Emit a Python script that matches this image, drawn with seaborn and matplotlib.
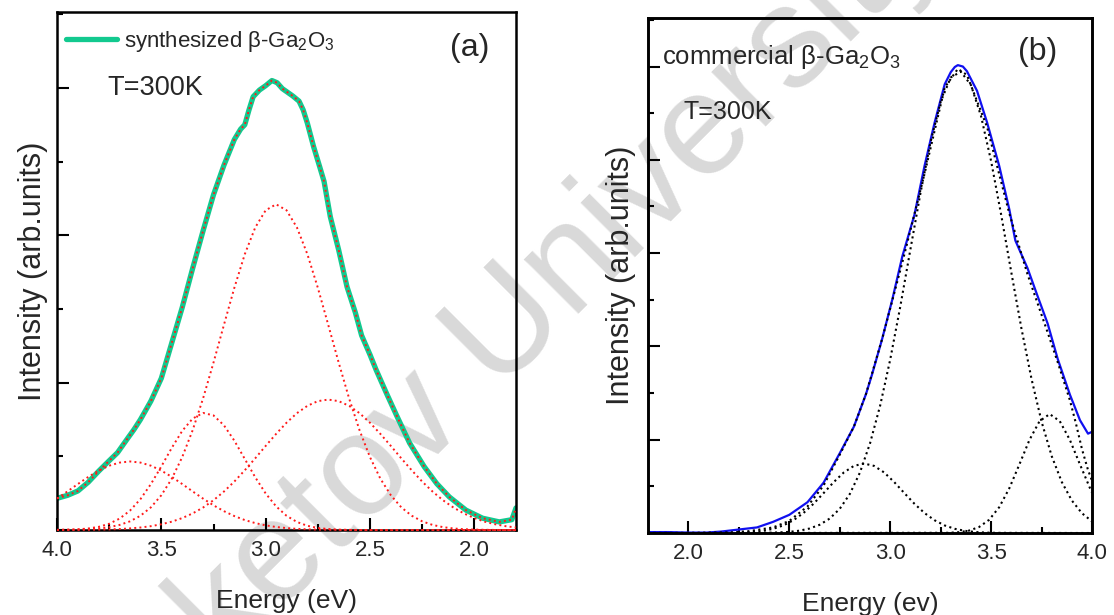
import matplotlib
matplotlib.use("Agg")
import matplotlib.pyplot as plt
import seaborn as sns
from matplotlib.ticker import MultipleLocator

# ---- panel (a): synthesized beta-Ga2O3, PL spectrum ----
e_syn = [4.00, 3.95, 3.90, 3.85, 3.80, 3.75, 3.71, 3.66, 3.632, 3.60, 3.55, 3.50, 3.45,
         3.40, 3.35, 3.30, 3.25, 3.20, 3.15, 3.12, 3.10, 3.08, 3.06, 3.03, 3.00, 2.97,
         2.945, 2.92, 2.89, 2.87, 2.84, 2.82, 2.80, 2.77, 2.74, 2.72, 2.69, 2.65, 2.61,
         2.57, 2.54, 2.50, 2.47, 2.42, 2.37, 2.31, 2.24, 2.18, 2.12, 2.04, 1.96, 1.88,
         1.82, 1.80]
i_syn = [0.43, 0.47, 0.53, 0.65, 0.80, 0.94, 1.05, 1.25, 1.36, 1.50, 1.75, 2.06, 2.54,
         3.02, 3.55, 4.06, 4.55, 4.95, 5.30, 5.44, 5.50, 5.70, 5.88, 5.97, 6.03, 6.10,
         6.07, 5.99, 5.93, 5.89, 5.82, 5.70, 5.52, 5.20, 4.92, 4.73, 4.25, 3.80, 3.30,
         2.95, 2.64, 2.38, 2.17, 1.85, 1.54, 1.18, 0.86, 0.63, 0.45, 0.27, 0.16, 0.11,
         0.14, 0.30]

# component grid for (a), 4.00 -> 1.80
e_grid_a = [4.00, 3.95, 3.90, 3.85, 3.80, 3.75, 3.70, 3.65, 3.60, 3.55, 3.50, 3.45, 3.40,
            3.35, 3.30, 3.25, 3.20, 3.15, 3.10, 3.05, 3.00, 2.95, 2.90, 2.85, 2.80, 2.75,
            2.70, 2.65, 2.60, 2.55, 2.50, 2.45, 2.40, 2.35, 2.30, 2.25, 2.20, 2.15, 2.10,
            2.05, 2.00, 1.95, 1.90, 1.85, 1.80]
peak_a1 = [0.426, 0.524, 0.624, 0.721, 0.806, 0.873, 0.915, 0.930, 0.915, 0.873, 0.806,
           0.721, 0.624, 0.524, 0.426, 0.335, 0.256, 0.189, 0.135, 0.094, 0.063, 0.041,
           0.026, 0.016, 0.009, 0.005, 0.003, 0.002, 0.001, 0, 0, 0, 0, 0, 0, 0, 0, 0, 0,
           0, 0, 0, 0, 0, 0]
peak_a2 = [0.002, 0.004, 0.009, 0.021, 0.043, 0.085, 0.155, 0.264, 0.420, 0.624, 0.863,
           1.115, 1.345, 1.512, 1.589, 1.555, 1.421, 1.212, 0.964, 0.716, 0.496, 0.321,
           0.193, 0.109, 0.057, 0.028, 0.013, 0.005, 0.002, 0, 0, 0, 0, 0, 0, 0, 0, 0, 0,
           0, 0, 0, 0, 0, 0]
peak_a3 = [0.001, 0.003, 0.006, 0.011, 0.021, 0.039, 0.069, 0.118, 0.194, 0.308, 0.472,
           0.696, 0.989, 1.354, 1.786, 2.272, 2.784, 3.288, 3.743, 4.105, 4.339, 4.420,
           4.339, 4.105, 3.743, 3.288, 2.784, 2.272, 1.786, 1.354, 0.989, 0.696, 0.472,
           0.308, 0.194, 0.118, 0.069, 0.039, 0.021, 0.011, 0.006, 0.003, 0.001, 0, 0]
peak_a4 = [0.001, 0.001, 0.002, 0.003, 0.005, 0.008, 0.013, 0.022, 0.034, 0.052, 0.078,
           0.113, 0.162, 0.225, 0.305, 0.404, 0.522, 0.658, 0.811, 0.973, 1.141, 1.304,
           1.456, 1.586, 1.685, 1.749, 1.770, 1.749, 1.685, 1.586, 1.456, 1.304, 1.141,
           0.973, 0.811, 0.658, 0.522, 0.404, 0.305, 0.225, 0.162, 0.113, 0.078, 0.052,
           0.034]

# ---- panel (b): commercial beta-Ga2O3 ----
e_com = [1.80, 1.90, 2.00, 2.09, 2.16, 2.24, 2.30, 2.34, 2.42, 2.50, 2.59, 2.67, 2.75,
         2.82, 2.88, 2.91, 2.96, 3.01, 3.06, 3.12, 3.17, 3.22, 3.27, 3.30, 3.32, 3.335,
         3.36, 3.38, 3.43, 3.48, 3.54, 3.59, 3.62, 3.68, 3.73, 3.78, 3.83, 3.89, 3.94,
         3.98, 4.00]
i_com = [0.02, 0.02, 0.01, 0.01, 0.03, 0.07, 0.10, 0.12, 0.24, 0.39, 0.66, 1.08, 1.71,
         2.28, 2.98, 3.40, 4.16, 5.00, 5.93, 6.82, 7.87, 8.80, 9.62, 9.88, 9.99, 10.03,
         10.00, 9.90, 9.48, 8.80, 7.87, 6.94, 6.27, 5.68, 5.08, 4.49, 3.73, 2.97, 2.42,
         2.13, 2.17]

e_fit_b = [1.80, 2.00, 2.20, 2.30, 2.42, 2.50, 2.59, 2.67, 2.75, 2.82, 2.88, 2.96, 3.06,
           3.17, 3.27, 3.335, 3.38, 3.48, 3.59, 3.68, 3.78, 3.83, 3.89, 3.92, 3.95, 3.98,
           4.00]
i_fit_b = [0.0, 0.0, 0.01, 0.04, 0.12, 0.26, 0.57, 1.02, 1.68, 2.28, 2.98, 4.16, 5.80,
           7.70, 9.55, 9.95, 9.82, 8.70, 6.85, 5.55, 4.30, 3.66, 2.85, 2.35, 1.80, 1.35,
           1.12]

e_grid_b = [1.80, 1.85, 1.90, 1.95, 2.00, 2.05, 2.10, 2.15, 2.20, 2.25, 2.30, 2.35, 2.40,
            2.45, 2.50, 2.55, 2.60, 2.65, 2.70, 2.75, 2.80, 2.85, 2.90, 2.95, 3.00, 3.05,
            3.10, 3.15, 3.20, 3.25, 3.30, 3.35, 3.40, 3.45, 3.50, 3.55, 3.60, 3.65, 3.70,
            3.75, 3.80, 3.85, 3.90, 3.95, 4.00]
peak_b1 = [0, 0, 0, 0, 0, 0, 0, 0, 0, 0, 0.001, 0.002, 0.005, 0.012, 0.025, 0.050, 0.096,
           0.176, 0.309, 0.519, 0.838, 1.297, 1.923, 2.730, 3.719, 4.857, 6.080, 7.290,
           8.385, 9.244, 9.766, 9.890, 9.603, 8.936, 7.970, 6.815, 5.586, 4.388, 3.304,
           2.385, 1.650, 1.094, 0.696, 0.424, 0.248]

e_b2 = [1.80, 2.22, 2.27, 2.32, 2.37, 2.42, 2.47, 2.52, 2.57, 2.62, 2.67, 2.72, 2.77, 2.82,
        2.87, 2.92, 2.97, 3.02, 3.07, 3.12, 3.17, 3.22, 3.27, 3.32, 3.37, 3.42, 3.47, 3.52,
        4.00]
peak_b2 = [0, 0.004, 0.010, 0.022, 0.047, 0.090, 0.162, 0.273, 0.428, 0.627, 0.856, 1.091,
           1.298, 1.439, 1.490, 1.439, 1.298, 1.091, 0.856, 0.627, 0.428, 0.273, 0.162,
           0.090, 0.047, 0.022, 0.010, 0.004, 0]

e_b3 = [1.80, 3.29, 3.34, 3.39, 3.44, 3.49, 3.54, 3.59, 3.64, 3.69, 3.74, 3.79, 3.84, 3.89,
        3.94, 3.99, 4.00]
peak_b3 = [0, 0.005, 0.018, 0.051, 0.128, 0.283, 0.553, 0.959, 1.471, 1.997, 2.399, 2.550,
           2.399, 1.997, 1.471, 0.959, 0.868]

sns.set_theme(style="ticks")
plt.rcParams["font.family"] = ["Liberation Sans", "DejaVu Sans"]
plt.rcParams["mathtext.fontset"] = "custom"
plt.rcParams["mathtext.rm"] = "Liberation Sans"
plt.rcParams["mathtext.it"] = "Liberation Sans:italic"
plt.rcParams["mathtext.bf"] = "Liberation Sans:bold"

fig = plt.figure(figsize=(11.14, 6.15), dpi=100, facecolor="white")
ax_a = fig.add_axes([0.0512, 0.1382, 0.4120, 0.8423])
ax_b = fig.add_axes([0.5817, 0.1333, 0.3986, 0.8374])

# watermark behind everything
fig.text(0.47, 0.40, "Buketov University", rotation=45, rotation_mode="anchor",
         ha="center", va="baseline", fontsize=104, color="#d9d9d9", zorder=-5)

GREEN = "#12c98f"
RED = "#ff1a1a"

# (a)
sns.lineplot(x=e_syn, y=i_syn, ax=ax_a, color=GREEN, lw=3.8, sort=False,
             estimator=None, label="synthesized β-Ga$_2$O$_3$", zorder=2)
sns.lineplot(x=e_syn, y=i_syn, ax=ax_a, color=RED, lw=1.4, ls=":", sort=False,
             estimator=None, zorder=3)
for comp in [peak_a1, peak_a2, peak_a3, peak_a4]:
    sns.lineplot(x=e_grid_a, y=comp, ax=ax_a, color=RED, lw=1.4, ls=":", sort=False,
                 estimator=None, zorder=3, clip_on=False)

ax_a.set_xlim(4.0, 1.8)
ax_a.set_ylim(0, 7.03)
ax_a.xaxis.set_major_locator(MultipleLocator(0.5))
ax_a.xaxis.set_minor_locator(MultipleLocator(0.25))
ax_a.yaxis.set_major_locator(MultipleLocator(2))
ax_a.yaxis.set_minor_locator(MultipleLocator(1))
ax_a.set_xlabel("Energy (eV)", fontsize=19, labelpad=20)
ax_a.set_ylabel("Intensity (arb.units)", fontsize=22, labelpad=3)
ax_a.legend(loc="upper left", bbox_to_anchor=(0.0, 0.985), frameon=False, fontsize=16,
            handlelength=2.3, handletextpad=0.3, borderpad=0.3, borderaxespad=0.1)
ax_a.text(0.109, 0.853, "T=300K", transform=ax_a.transAxes, fontsize=19.5,
          ha="left", va="center")
ax_a.text(0.90, 0.93, "(a)", transform=ax_a.transAxes, fontsize=23,
          ha="center", va="center")

# (b)
sns.lineplot(x=e_com, y=i_com, ax=ax_b, color="#1010f0", lw=1.6, sort=False,
             estimator=None, zorder=2)
sns.lineplot(x=e_fit_b, y=i_fit_b, ax=ax_b, color="black", lw=1.5, ls=":", sort=False,
             estimator=None, zorder=3)
sns.lineplot(x=e_grid_b, y=peak_b1, ax=ax_b, color="black", lw=1.5, ls=":", sort=False,
             estimator=None, zorder=3)
sns.lineplot(x=e_b2, y=peak_b2, ax=ax_b, color="black", lw=1.5, ls=":", sort=False,
             estimator=None, zorder=3)
sns.lineplot(x=e_b3, y=peak_b3, ax=ax_b, color="black", lw=1.5, ls=":", sort=False,
             estimator=None, zorder=3)

ax_b.set_xlim(1.8, 4.0)
ax_b.set_ylim(0, 11.04)
ax_b.xaxis.set_major_locator(MultipleLocator(0.5))
ax_b.xaxis.set_minor_locator(MultipleLocator(0.25))
ax_b.yaxis.set_major_locator(MultipleLocator(2))
ax_b.yaxis.set_minor_locator(MultipleLocator(1))
ax_b.set_xlabel("Energy (ev)", fontsize=19, labelpad=20)
ax_b.set_ylabel("Intensity (arb.units)", fontsize=22, labelpad=5)
ax_b.text(0.032, 0.924, "commercial β-Ga$_2$O$_3$", transform=ax_b.transAxes,
          fontsize=18.5, ha="left", va="center")
ax_b.text(0.079, 0.817, "T=300K", transform=ax_b.transAxes, fontsize=18,
          ha="left", va="center")
ax_b.text(0.878, 0.934, "(b)", transform=ax_b.transAxes, fontsize=23,
          ha="center", va="center")

for ax, sw in [(ax_a, 1.8), (ax_b, 2.1)]:
    ax.set_facecolor("none")
    for sp in ax.spines.values():
        sp.set_visible(True)
        sp.set_linewidth(sw)
        sp.set_color("black")
    ax.tick_params(which="both", direction="in", top=False, right=False, width=1.5,
                   color="black")
    ax.tick_params(which="major", length=8.5)
    ax.tick_params(which="minor", length=4.5)
    ax.tick_params(axis="x", which="major", labelsize=16, pad=7)
    ax.tick_params(axis="y", labelleft=False)
    ax.grid(False)

fig.savefig("out.png", dpi=100, facecolor="white")
